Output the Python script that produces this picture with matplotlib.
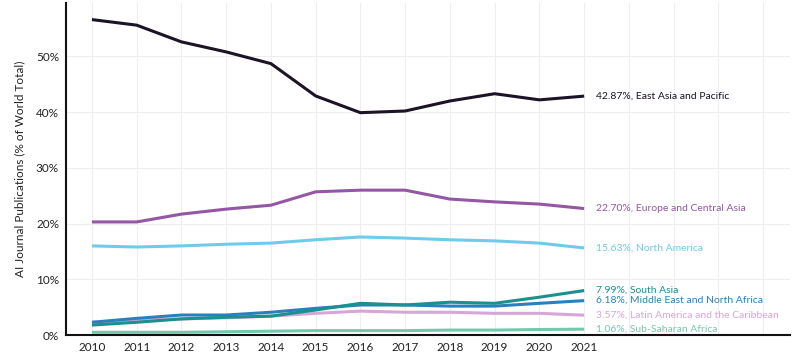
import matplotlib
matplotlib.use("Agg")
import matplotlib.pyplot as plt

plt.rcParams["font.family"] = ["Lato", "DejaVu Sans"]

years = list(range(2010, 2022))

east_asia = [56.6, 55.6, 52.6, 50.8, 48.7, 42.9, 39.9, 40.2, 42.0, 43.3, 42.2, 42.87]
europe = [20.3, 20.3, 21.7, 22.6, 23.3, 25.7, 26.0, 26.0, 24.4, 23.9, 23.5, 22.70]
north_america = [16.0, 15.8, 16.0, 16.3, 16.5, 17.1, 17.6, 17.4, 17.1, 16.9, 16.5, 15.63]
south_asia = [1.8, 2.3, 2.9, 3.2, 3.4, 4.5, 5.7, 5.4, 5.9, 5.7, 6.8, 7.99]
mena = [2.3, 3.0, 3.6, 3.6, 4.1, 4.8, 5.4, 5.4, 5.2, 5.2, 5.7, 6.18]
latam = [2.3, 2.7, 2.9, 3.1, 3.4, 3.9, 4.3, 4.1, 4.1, 3.9, 3.9, 3.57]
ssa = [0.5, 0.5, 0.5, 0.6, 0.7, 0.8, 0.8, 0.8, 0.9, 0.9, 1.0, 1.06]

series = [
    ("East Asia and Pacific", east_asia, "#1c1326"),
    ("Europe and Central Asia", europe, "#9457a4"),
    ("North America", north_america, "#6fcbea"),
    ("Latin America and the Caribbean", latam, "#d7a6d8"),
    ("Sub-Saharan Africa", ssa, "#72c9ae"),
    ("Middle East and North Africa", mena, "#2a80bd"),
    ("South Asia", south_asia, "#1a9090"),
]

fig = plt.figure(figsize=(8, 3.58), dpi=100)
ax = fig.add_axes([0.0825, 0.064, 0.905, 0.928])

for name, vals, col in series:
    ax.plot(years, vals, color=col, lw=2.2, solid_capstyle="butt")
    ax.text(2021.27, vals[-1], f"{vals[-1]:.2f}%, {name}", color=col,
            fontsize=7.5, va="center", ha="left")

ax.set_xlim(2009.42, 2025.6)
ax.set_ylim(0, 59.6)
ax.set_xticks(range(2010, 2026))
ax.set_xticklabels([str(y) if y <= 2021 else "" for y in range(2010, 2026)])
ax.set_yticks(range(0, 60, 10))
ax.set_yticklabels([f"{v}%" for v in range(0, 60, 10)])
ax.tick_params(length=0, labelsize=8.5, colors="#222222", pad=5)
ax.grid(True, color="#eeeeee", lw=0.8)
ax.set_axisbelow(True)
for s in ["top", "right"]:
    ax.spines[s].set_visible(False)
for s in ["left", "bottom"]:
    ax.spines[s].set_linewidth(1.5)
    ax.spines[s].set_color("#111111")
ax.set_ylabel("AI Journal Publications (% of World Total)", fontsize=8.5, color="#222222", labelpad=8)

fig.savefig("out.png", dpi=100)
